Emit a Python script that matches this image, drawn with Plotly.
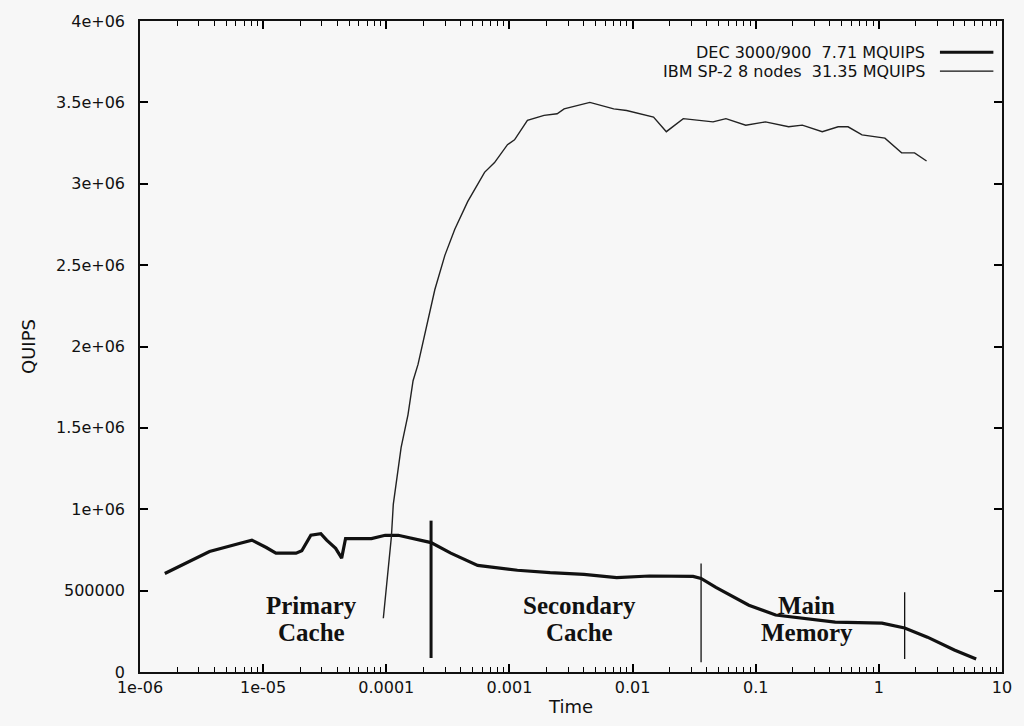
import plotly.graph_objects as go
import math

# ---------------- data ----------------
dec_t = [1.59e-6, 3.67e-6, 6.4e-6, 8.1e-6, 1.06e-5, 1.27e-5, 1.85e-5, 2.06e-5, 2.44e-5,
         2.94e-5, 3.28e-5, 3.88e-5, 4.34e-5, 4.67e-5, 5.94e-5, 7.57e-5, 9.8e-5, 1.25e-4,
         2.31e-4, 3.34e-4, 5.52e-4, 8.0e-4, 1.16e-3, 2.14e-3, 4.03e-3, 7.43e-3, 1.37e-2,
         3.10e-2, 3.6e-2, 4.75e-2, 8.8e-2, 0.145, 0.239, 0.442, 1.06, 1.62, 2.48, 4.1, 6.17]
dec_q = [605000, 740000, 790000, 810000, 765000, 730000, 730000, 745000, 840000,
         850000, 810000, 760000, 700000, 820000, 820000, 820000, 840000, 840000,
         795000, 730000, 655000, 640000, 625000, 610000, 600000, 580000, 590000,
         587000, 575000, 520000, 410000, 350000, 330000, 306000, 300000, 270000, 214000, 135000, 80000]

ibm_t = [9.46e-5, 1.10e-4, 1.14e-4, 1.32e-4, 1.50e-4, 1.65e-4, 1.81e-4, 2.18e-4, 2.48e-4,
         2.99e-4, 3.60e-4, 4.58e-4, 6.28e-4, 7.57e-4, 9.64e-4, 1.10e-3, 1.40e-3, 1.91e-3,
         2.44e-3, 2.78e-3, 3.10e-3, 4.50e-3, 7.03e-3, 8.95e-3, 1.48e-2, 1.88e-2, 2.58e-2,
         3.47e-2, 4.50e-2, 5.73e-2, 8.30e-2, 0.120, 0.185, 0.239, 0.347, 0.467, 0.562,
         0.730, 1.12, 1.53, 1.95, 2.44]
ibm_q = [330000, 830000, 1030000, 1380000, 1580000, 1790000, 1890000, 2150000, 2350000,
         2560000, 2720000, 2890000, 3070000, 3130000, 3240000, 3270000, 3390000, 3420000,
         3430000, 3460000, 3470000, 3500000, 3460000, 3450000, 3410000, 3320000, 3400000,
         3390000, 3380000, 3400000, 3360000, 3380000, 3350000, 3360000, 3320000, 3350000, 3350000,
         3300000, 3280000, 3190000, 3190000, 3140000]

boundary_t = [2.31e-4, 3.6e-2, 1.62]
boundary_top = [930000, 667000, 490000]
boundary_bottom = [86000, 60000, 80000]
boundary_width = [3, 1.3, 1.3]

region_labels = [("Primary", "Cache"), ("Secondary", "Cache"), ("Main", "Memory")]
region_t = [2.48e-5, 3.74e-3, 0.26]
region_y1 = 410000
region_y2 = 245000

legend_names = ["DEC 3000/900  7.71 MQUIPS", "IBM SP-2 8 nodes  31.35 MQUIPS"]

x_tickvals = [1e-6, 1e-5, 1e-4, 1e-3, 1e-2, 1e-1, 1, 10]
x_ticktext = ["1e-06", "1e-05", "0.0001", "0.001", "0.01", "0.1", "1", "10"]
y_tickvals = [0, 500000, 1000000, 1500000, 2000000, 2500000, 3000000, 3500000, 4000000]
y_ticktext = ["0", "500000", "1e+06", "1.5e+06", "2e+06", "2.5e+06", "3e+06", "3.5e+06", "4e+06"]

# minor tick positions for the log axis (2..9 in each decade)
x_minor = [d * 10.0 ** e for e in range(-6, 1) for d in range(2, 10)]

# ---------------- figure ----------------
fig = go.Figure()

fig.add_trace(go.Scatter(x=dec_t, y=dec_q, mode="lines", name=legend_names[0],
                         line=dict(color="#111111", width=3.2), showlegend=False))
fig.add_trace(go.Scatter(x=ibm_t, y=ibm_q, mode="lines", name=legend_names[1],
                         line=dict(color="#222222", width=1.4), showlegend=False))

for t, top, bot, w in zip(boundary_t, boundary_top, boundary_bottom, boundary_width):
    fig.add_trace(go.Scatter(x=[t, t], y=[bot, top], mode="lines",
                             line=dict(color="#111111", width=w), showlegend=False,
                             hoverinfo="skip"))

serif = dict(family="Liberation Serif, Times New Roman, serif", size=25, color="#111111")
for (l1, l2), t in zip(region_labels, region_t):
    fig.add_annotation(x=math.log10(t), y=region_y1, text="<b>%s</b>" % l1, showarrow=False,
                       font=serif, xanchor="center", yanchor="middle")
    fig.add_annotation(x=math.log10(t), y=region_y2, text="<b>%s</b>" % l2, showarrow=False,
                       font=serif, xanchor="center", yanchor="middle")

# legend drawn gnuplot-style (text then line sample on the right)
sans = dict(family="DejaVu Sans, Liberation Sans, sans-serif", size=16, color="#111111")
leg_y = [0.952, 0.923]
leg_w = [3.0, 1.4]
for name, yy, w in zip(legend_names, leg_y, leg_w):
    fig.add_annotation(xref="paper", yref="paper", x=0.913, y=yy, text=name, showarrow=False,
                       xanchor="right", yanchor="middle", font=sans)
    fig.add_shape(type="line", xref="paper", yref="paper", x0=0.928, x1=0.99, y0=yy, y1=yy,
                  line=dict(color="#111111", width=w))

tickfont = dict(family="DejaVu Sans, Liberation Sans, sans-serif", size=16, color="#111111")

fig.update_layout(
    xaxis=dict(type="log", range=[-6, 1], tickmode="array", tickvals=x_tickvals,
               ticktext=x_ticktext, ticks="inside", ticklen=8, tickwidth=1.5,
               tickcolor="#000000", showline=True, linecolor="#111111", linewidth=1.5,
               mirror="ticks", showgrid=False, zeroline=False, tickfont=tickfont,
               minor=dict(ticks="inside", ticklen=5, tickwidth=1.2, tickcolor="#000000",
                          tickmode="array", tickvals=x_minor, showgrid=False),
               title=dict(text="Time", standoff=4,
                          font=dict(family="DejaVu Sans, Liberation Sans, sans-serif",
                                    size=18, color="#111111"))),
    yaxis=dict(range=[0, 4000000], tickmode="array", tickvals=y_tickvals, ticktext=y_ticktext,
               ticks="inside", ticklen=8, tickwidth=1.5, tickcolor="#000000",
               showline=True, linecolor="#111111", linewidth=1.5, mirror="ticks",
               showgrid=False, zeroline=False, tickfont=tickfont, ticklabelstandoff=10,
               title=dict(text="QUIPS", standoff=16,
                          font=dict(family="DejaVu Sans, Liberation Sans, sans-serif",
                                    size=18, color="#111111"))),
    width=1024, height=726,
    margin=dict(l=140, r=16, t=18, b=54),
    paper_bgcolor="#f7f7f7", plot_bgcolor="#f7f7f7",
    showlegend=False)

fig.write_html("out.html")
